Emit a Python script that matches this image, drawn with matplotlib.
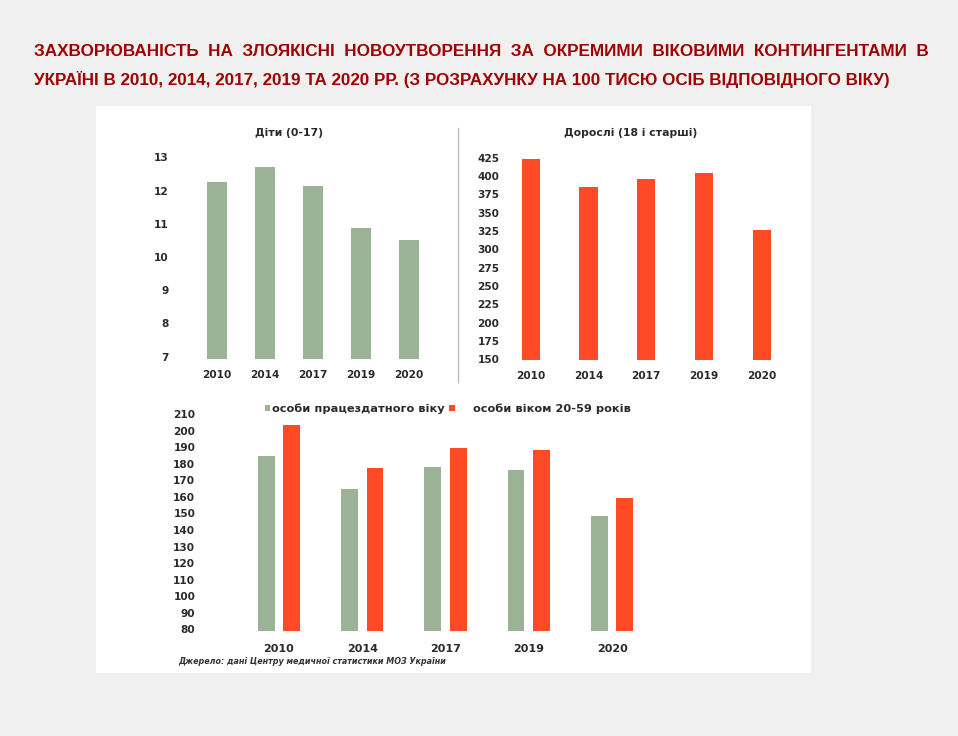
import numpy as np
import matplotlib
matplotlib.use("Agg")
import matplotlib.pyplot as plt
from matplotlib.patches import Rectangle
from matplotlib.lines import Line2D

# Data
years = ["2010", "2014", "2017", "2019", "2020"]
children = [12.27, 12.71, 12.14, 10.86, 10.51]
adults = [422.8, 384.6, 396.4, 403.7, 326.4]
working_age = [184.8, 164.9, 178.0, 176.0, 148.4]
age_20_59 = [203.4, 177.4, 189.3, 188.0, 159.3]

children_ticks = [7, 8, 9, 10, 11, 12, 13]
adult_ticks = list(range(150, 426, 25))
bottom_ticks = list(range(80, 211, 10))

title_1 = "ЗАХВОРЮВАНІСТЬ  НА  ЗЛОЯКІСНІ  НОВОУТВОРЕННЯ  ЗА  ОКРЕМИМИ  ВІКОВИМИ  КОНТИНГЕНТАМИ  В"
title_2 = "УКРАЇНІ В 2010, 2014, 2017, 2019 ТА 2020 РР. (З РОЗРАХУНКУ НА 100 ТИСЮ ОСІБ ВІДПОВІДНОГО ВІКУ)"
source = "Джерело: дані Центру медичної статистики МОЗ України"

GREEN = "#9bb297"
RED = "#ff4a26"
TITLE_RED = "#a00000"
TXT = "#2a2a2a"

W, H = 958, 736
fig = plt.figure(figsize=(W / 100, H / 100), dpi=100, facecolor="#f0f0f0")


def px_axes(left, top, right, bottom):
    return fig.add_axes([left / W, 1 - bottom / H, (right - left) / W, (bottom - top) / H])


def style(ax, ypad):
    for s in ax.spines.values():
        s.set_visible(False)
    ax.tick_params(length=0, labelsize=7.6, colors=TXT)
    ax.tick_params(axis="y", pad=ypad)
    for lab in ax.get_xticklabels() + ax.get_yticklabels():
        lab.set_fontweight("bold")
    ax.patch.set_alpha(0)


# white panel
fig.patches.append(Rectangle((96 / W, 1 - 673 / H), (811 - 96) / W, (673 - 106) / H,
                             transform=fig.transFigure, facecolor="white", edgecolor="none", zorder=-5))

# title
fig.text(34 / W, 1 - 51 / H, title_1, fontsize=12.3, fontweight="bold", color=TITLE_RED,
         family="Liberation Sans", va="center", ha="left")
fig.text(34 / W, 1 - 79 / H, title_2, fontsize=12.25, fontweight="bold", color=TITLE_RED,
         family="Liberation Sans", va="center", ha="left")

# children
x = np.arange(len(years))
ax1 = px_axes(185, 150, 440, 359.3)
ax1.bar(x, children, width=0.43, color=GREEN)
ax1.set_ylim(6.92, 13.22)
ax1.set_xlim((185 - 217) / 48, 4 + (440 - 409) / 48)
ax1.set_yticks(children_ticks)
ax1.set_xticks(x, years)
ax1.tick_params(axis="x", pad=8)
style(ax1, 12)
fig.text(289 / W, 1 - 133 / H, "Діти (0-17)", fontsize=7.8, fontweight="bold", color=TXT,
         ha="center", va="center")

# adults
ax2 = px_axes(505, 150, 800, 360)
ax2.bar(x, adults, width=0.317, color=RED)
ax2.set_ylim(149, 435.5)
ax2.set_xlim((505 - 530.7) / 57.75, 4 + (800 - 761.7) / 57.75)
ax2.set_yticks(adult_ticks)
ax2.set_xticks(x, years)
ax2.tick_params(axis="x", pad=8)
style(ax2, 4)
fig.text(631 / W, 1 - 133 / H, "Дорослі (18 і старші)", fontsize=7.8, fontweight="bold",
         color=TXT, ha="center", va="center")

# divider
fig.add_artist(Line2D([458 / W, 458 / W], [1 - 128 / H, 1 - 382 / H], color="#bdbdbd", lw=1))

# bottom grouped chart
ax3 = px_axes(205, 408, 700, 631)
off = 0.1525
ax3.bar(x - off, working_age, width=0.2, color=GREEN, label="особи працездатного віку")
ax3.bar(x + off, age_20_59, width=0.2, color=RED, label="    особи віком 20-59 років")
ax3.set_ylim(79, 213.6)
ax3.set_xlim((205 - 279) / 83.25, 4 + (700 - 612) / 83.25)
ax3.set_yticks(bottom_ticks)
ax3.set_xticks(x, years)
ax3.tick_params(axis="x", pad=9)
style(ax3, 7)
for lab in ax3.get_xticklabels():
    lab.set_fontsize(8)
leg = ax3.legend(loc="upper left", bbox_to_anchor=((259 - 205) / 495, 1 + (408 - 398) / 223),
                 ncol=2, frameon=False, borderpad=0, handlelength=0.5, handleheight=0.5,
                 handletextpad=0.15, columnspacing=0.4, prop={"weight": "bold", "size": 8.2})
for t in leg.get_texts():
    t.set_color(TXT)

fig.text(178 / W, 1 - 662 / H, source, fontsize=5.8, fontweight="bold", style="italic",
         color="#333333", ha="left", va="center")

fig.savefig("out.png", dpi=100, facecolor=fig.get_facecolor())
